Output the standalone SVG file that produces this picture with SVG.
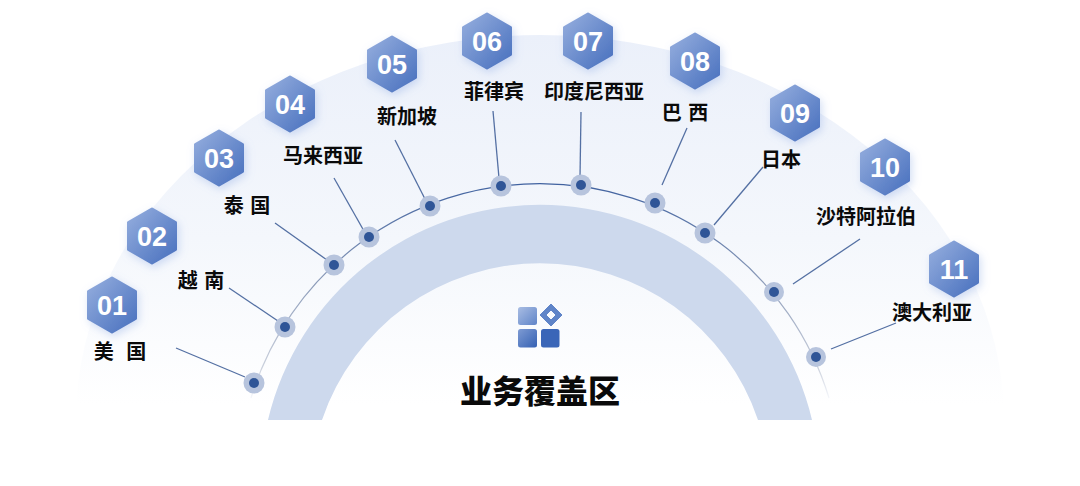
<svg xmlns="http://www.w3.org/2000/svg" width="1080" height="486" viewBox="0 0 1080 486">
<style>
.num{font-family:"Liberation Sans",Arial,sans-serif;font-weight:700;font-size:27px;fill:#fff;text-anchor:middle}
.lbl{font-family:"Noto Sans CJK SC","Noto Sans",sans-serif;font-weight:700;font-size:20px;fill:#0a0a0a;text-anchor:middle}
.sp{word-spacing:2px}
.title{font-family:"Noto Sans CJK SC","Noto Sans",sans-serif;font-weight:900;font-size:32px;fill:#0a0a0a;text-anchor:middle}
.lead{stroke:#5470a3;stroke-width:1.3;fill:none}
.halo{fill:#b7c4dd}
.dot{fill:#2f5597}
</style>
<defs>
<linearGradient id="bg" gradientUnits="userSpaceOnUse" x1="0" y1="35" x2="0" y2="405">
<stop offset="0" stop-color="#ebf0fa"/><stop offset="0.55" stop-color="#f4f7fc"/><stop offset="1" stop-color="#ffffff"/>
</linearGradient>
<linearGradient id="arcg" gradientUnits="userSpaceOnUse" x1="0" y1="183" x2="0" y2="398">
<stop offset="0" stop-color="#3f619f"/><stop offset="0.45" stop-color="#8a9ab8"/><stop offset="0.85" stop-color="#c9cfdb"/><stop offset="1" stop-color="#f4f6fa"/>
</linearGradient>
<linearGradient id="hexg" x1="0" y1="0" x2="1" y2="1">
<stop offset="0" stop-color="#95aede"/><stop offset="1" stop-color="#4870be"/>
</linearGradient>
<linearGradient id="icong" x1="0" y1="0" x2="1" y2="1">
<stop offset="0" stop-color="#a9bde3"/><stop offset="1" stop-color="#5f84c8"/>
</linearGradient>
<linearGradient id="icong2" x1="0" y1="0" x2="1" y2="1">
<stop offset="0" stop-color="#7e9bd3"/><stop offset="1" stop-color="#3561b3"/>
</linearGradient>
<filter id="sh" x="-40%" y="-40%" width="180%" height="180%">
<feDropShadow dx="2" dy="3" stdDeviation="4" flood-color="#7f9fe0" flood-opacity="0.35"/>
</filter>
<polygon id="hex" points="0,-27 23.5,-13.5 23.5,13.5 0,27 -23.5,13.5 -23.5,-13.5" fill="url(#hexg)" stroke="url(#hexg)" stroke-width="3" stroke-linejoin="round" filter="url(#sh)"/>
</defs>
<rect width="1080" height="486" fill="#fff"/>
<g id="background">
<path d="M76,420 A464,385 0 0 1 1004,420 Z" fill="url(#bg)"/>
<path d="M268,420 A279.500,279.500 0 0 1 812,420 L758,420 A230,230 0 0 0 322,420 Z" fill="#cdd9ed"/>
</g>
<g id="connectors">
<path d="M251,398 A302,302 0 0 1 829,398" fill="none" stroke="url(#arcg)" stroke-width="1.2"/>
<line class="lead" x1="176" y1="348" x2="245" y2="377"/>
<line class="lead" x1="229" y1="288" x2="278" y2="321"/>
<line class="lead" x1="275" y1="223" x2="327" y2="260"/>
<line class="lead" x1="334" y1="178" x2="364" y2="231"/>
<line class="lead" x1="395" y1="140" x2="425" y2="199"/>
<line class="lead" x1="493" y1="111" x2="499" y2="178"/>
<line class="lead" x1="581" y1="112" x2="580" y2="177"/>
<line class="lead" x1="687" y1="128" x2="662" y2="185"/>
<line class="lead" x1="763" y1="167" x2="714" y2="225"/>
<line class="lead" x1="860" y1="239" x2="793" y2="284"/>
<line class="lead" x1="896" y1="323" x2="831" y2="349"/>
</g>
<g id="center">
<rect x="518" y="307" width="19" height="18" rx="2.500" fill="url(#icong)"/>
<rect x="518" y="329" width="19" height="18.500" rx="2.500" fill="url(#icong2)"/>
<rect x="541" y="329" width="18.500" height="18.500" rx="2.500" fill="#3a66b8"/>
<path d="M551,304 L562,315 L551,326 L540,315 Z M551,310 L546,315 L551,320 L556,315 Z" fill="#5f84c8" fill-rule="evenodd" stroke="#5f84c8" stroke-width="1" stroke-linejoin="round"/>
<text class="title" x="540" y="403">业务覆盖区</text>
</g>
<g id="node-01"><use href="#hex" x="112" y="305"/><text class="num" x="112" y="315">01</text><text class="lbl" x="120" y="359" style="word-spacing:8px">美 国</text><circle class="halo" cx="254" cy="383" r="10.500"/><circle class="dot" cx="254" cy="383" r="5"/></g>
<g id="node-02"><use href="#hex" x="152" y="236"/><text class="num" x="152" y="246">02</text><text class="lbl sp" x="201" y="288">越 南</text><circle class="halo" cx="285" cy="327" r="10.500"/><circle class="dot" cx="285" cy="327" r="5"/></g>
<g id="node-03"><use href="#hex" x="219" y="158"/><text class="num" x="219" y="168">03</text><text class="lbl sp" x="247" y="213">泰 国</text><circle class="halo" cx="334" cy="265" r="10.500"/><circle class="dot" cx="334" cy="265" r="5"/></g>
<g id="node-04"><use href="#hex" x="290" y="104"/><text class="num" x="290" y="114">04</text><text class="lbl" x="323" y="163">马来西亚</text><circle class="halo" cx="369" cy="237" r="10.500"/><circle class="dot" cx="369" cy="237" r="5"/></g>
<g id="node-05"><use href="#hex" x="392" y="64"/><text class="num" x="392" y="74">05</text><text class="lbl" x="407" y="124">新加坡</text><circle class="halo" cx="430" cy="206" r="10.500"/><circle class="dot" cx="430" cy="206" r="5"/></g>
<g id="node-06"><use href="#hex" x="487" y="41"/><text class="num" x="487" y="51">06</text><text class="lbl" x="494" y="99">菲律宾</text><circle class="halo" cx="501" cy="186" r="10.500"/><circle class="dot" cx="501" cy="186" r="5"/></g>
<g id="node-07"><use href="#hex" x="588" y="41"/><text class="num" x="588" y="51">07</text><text class="lbl" x="594" y="99">印度尼西亚</text><circle class="halo" cx="581" cy="185" r="10.500"/><circle class="dot" cx="581" cy="185" r="5"/></g>
<g id="node-08"><use href="#hex" x="695" y="61"/><text class="num" x="695" y="71">08</text><text class="lbl sp" x="685" y="120">巴 西</text><circle class="halo" cx="655" cy="203" r="10.500"/><circle class="dot" cx="655" cy="203" r="5"/></g>
<g id="node-09"><use href="#hex" x="795" y="113"/><text class="num" x="795" y="123">09</text><text class="lbl" x="781" y="167">日本</text><circle class="halo" cx="705" cy="233" r="10.500"/><circle class="dot" cx="705" cy="233" r="5"/></g>
<g id="node-10"><use href="#hex" x="885" y="167"/><text class="num" x="885" y="177">10</text><text class="lbl" x="866" y="224">沙特阿拉伯</text><circle class="halo" cx="774" cy="292" r="10"/><circle class="dot" cx="774" cy="292" r="5"/></g>
<g id="node-11"><use href="#hex" x="954" y="269"/><text class="num" x="954" y="279">11</text><text class="lbl" x="932" y="320">澳大利亚</text><circle class="halo" cx="816" cy="357" r="10"/><circle class="dot" cx="816" cy="357" r="5"/></g>
</svg>
